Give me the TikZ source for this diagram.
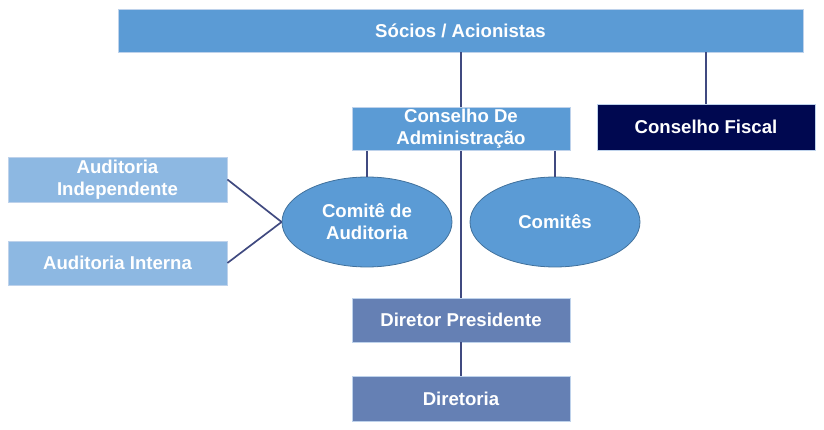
\documentclass[tikz,border=0pt]{standalone}
\usepackage{fontspec}
\setmainfont{Liberation Sans}
\usetikzlibrary{shapes.geometric}
\definecolor{boxBlue}{RGB}{91,155,213}
\definecolor{audBlue}{RGB}{141,184,226}
\definecolor{fiscNavy}{RGB}{0,8,80}
\definecolor{dirSlate}{RGB}{101,128,180}
\definecolor{lineG}{RGB}{64,74,128}
\definecolor{rimG}{RGB}{190,210,235}
\definecolor{ellRim}{RGB}{65,113,156}

\begin{document}
\begin{tikzpicture}[x=1pt,y=-1pt,font=\bfseries\fontsize{18.6}{22}\selectfont]
  \tikzset{org/.style={draw=rimG,line width=0.8pt,fill=#1,text=white,align=center,inner sep=0pt},
    comite/.style={ellipse,draw=ellRim,line width=0.8pt,fill=boxBlue,text=white,align=center,inner sep=0pt,minimum width=170pt,minimum height=90pt},
    link/.style={lineG,line width=1.7pt}}
  \useasboundingbox (0,0) rectangle (824,430);
  \node[org=boxBlue,minimum width=685pt,minimum height=43pt] (soc) at (460.5,30.5) {Sócios / Acionistas};
  \node[org=boxBlue,minimum width=218pt,minimum height=43pt] (cad) at (461,129) {Conselho De\\Administração};
  \node[org=fiscNavy,minimum width=218pt,minimum height=46pt] (cfi) at (706,127) {Conselho Fiscal};
  \node[org=audBlue,minimum width=219pt,minimum height=45pt] (aind) at (117.5,179.5) {Auditoria\\Independente};
  \node[org=audBlue,minimum width=219pt,minimum height=44pt] (aint) at (117.5,263) {Auditoria Interna};
  \node[comite] (caud) at (367,222) {Comitê de\\Auditoria};
  \node[comite] (com) at (555,222) {Comitês};
  \node[org=dirSlate,minimum width=218pt,minimum height=44pt] (dp) at (461,320) {Diretor Presidente};
  \node[org=dirSlate,minimum width=218pt,minimum height=45pt] (dir) at (461,398.5) {Diretoria};
  \draw[link] (soc.south -| cad.north) -- (cad.north);
  \draw[link] (soc.south -| cfi.north) -- (cfi.north);
  \draw[link] (cad.south) -- (dp.north);
  \draw[link] (cad.south -| caud.north) -- (caud.north);
  \draw[link] (cad.south -| com.north) -- (com.north);
  \draw[link] (aind.east) -- (caud.west);
  \draw[link] (aint.east) -- (caud.west);
  \draw[link] (dp.south) -- (dir.north);
\end{tikzpicture}
\end{document}
